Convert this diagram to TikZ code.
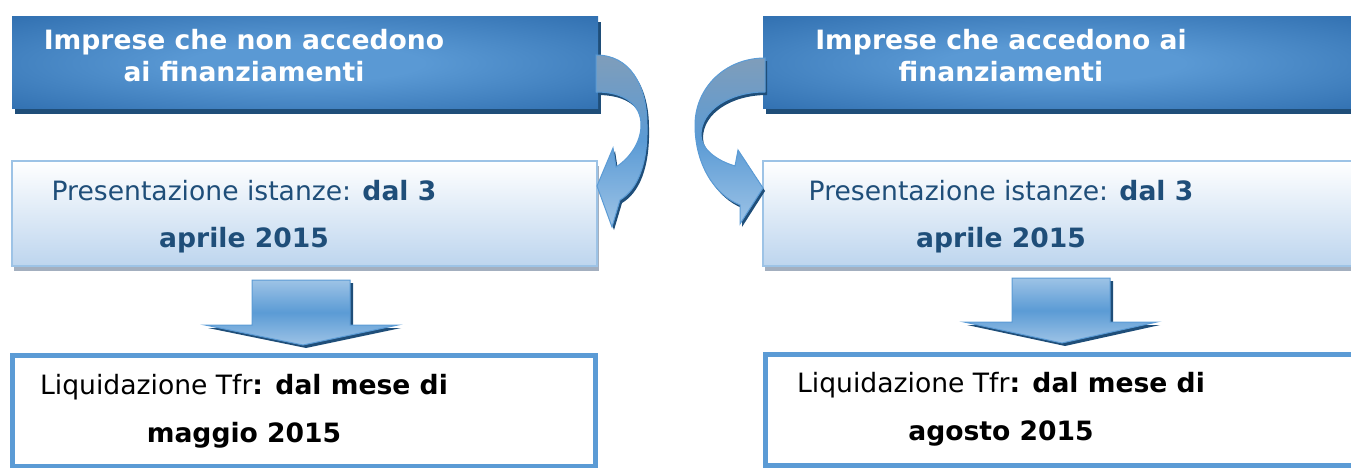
\documentclass[tikz,border=0pt]{standalone}
\usepackage{fontspec}
\setmainfont{DejaVu Sans}
\usetikzlibrary{shadows}

\definecolor{boxdark}{HTML}{2E6DAE}
\definecolor{boxlight}{HTML}{5A99D4}
\definecolor{navyshadow}{HTML}{1F4E79}
\definecolor{palefill}{HTML}{BDD5EE}
\definecolor{paleline}{HTML}{9DC3E6}
\definecolor{datetext}{HTML}{1F4E79}
\definecolor{frameblue}{HTML}{5B9BD5}
\definecolor{arrowgray}{HTML}{7F9DBA}
\definecolor{arrowlight}{HTML}{9DC3E6}
\definecolor{hatchgray}{HTML}{A3AFBF}

\pgfdeclareradialshading{headglow}{\pgfpoint{0bp}{0bp}}{color(0bp)=(boxlight); color(10bp)=(boxlight);
	color(38bp)=(boxdark); color(75bp)=(boxdark)}

\begin{document}
\begin{tikzpicture}[x=1pt, y=-1pt,
	headbox/.style={rectangle, minimum width=586pt, minimum height=92pt, inner sep=0pt,
		shading=headglow,
		drop shadow={shadow xshift=3pt, shadow yshift=-5pt, fill=navyshadow, opacity=1}},
	datebox/.style={rectangle, minimum width=585pt, minimum height=105pt, inner sep=0pt,
		top color=white, bottom color=palefill, draw=paleline, line width=1.5pt,
		drop shadow={shadow xshift=2pt, shadow yshift=-5pt, fill=hatchgray, opacity=1}},
	paybox/.style={rectangle, minimum width=583pt, minimum height=111pt, inner sep=0pt,
		fill=white, draw=frameblue, line width=5pt},
	headtext/.style={anchor=base, align=center, inner sep=0pt, text=white,
		font=\fontsize{26.6}{32}\selectfont\bfseries},
	datetext/.style={anchor=base, align=center, inner sep=0pt, text=datetext,
		font=\fontsize{26.6}{47}\selectfont},
	paytext/.style={anchor=base, align=center, inner sep=0pt, text=black,
		font=\fontsize{26.6}{48}\selectfont},
	blockarrow/.style={top color=arrowlight, bottom color=arrowlight, middle color=frameblue,
		draw=frameblue, line width=1pt,
		drop shadow={shadow xshift=3pt, shadow yshift=-3pt, fill=navyshadow, opacity=1}},
	bentarrow/.style={top color=arrowgray, bottom color=arrowlight, middle color=frameblue,
		draw=frameblue, line width=1pt,
		drop shadow={shadow xshift=2pt, shadow yshift=-3pt, fill=navyshadow, opacity=1}}]
	\clip (0,0) rectangle (1351,468);

	\node at (305,63) [headbox] (nohead) {};
	\node at (1063,63) [headbox, minimum width=600pt] (yeshead) {};
	\node at (304.5,213.5) [datebox] (nodate) {};
	\node at (1063,213.5) [datebox, minimum width=600pt] (yesdate) {};
	\node at (304,410.5) [paybox] (nopay) {};
	\node at (1067,409.5) [paybox, minimum width=604pt] (yespay) {};

	\node at (244,82) [headtext] (nohead-txt) {Imprese che non accedono\\ai finanziamenti};
	\node at (1001,82) [headtext] (yeshead-txt) {Imprese che accedono ai\\finanziamenti};
	\node at (244,247) [datetext] (nodate-txt) {Presentazione istanze: \textbf{dal 3}\\\textbf{aprile 2015}};
	\node at (1001,247) [datetext] (yesdate-txt) {Presentazione istanze: \textbf{dal 3}\\\textbf{aprile 2015}};
	\node at (244,442) [paytext] (nopay-txt) {Liquidazione Tfr\textbf{: dal mese di}\\\textbf{maggio 2015}};
	\node at (1001,440) [paytext] (yespay-txt) {Liquidazione Tfr\textbf{: dal mese di}\\\textbf{agosto 2015}};

	% bent arrows from the head boxes
	\path [bentarrow] (596,55) .. controls (630,55) and (647,85) .. (647,125)
		.. controls (648,165) and (637,190) .. (620,200) -- (612,227) -- (597,186) -- (613,148)
		-- (616,167) .. controls (630,158) and (641,142) .. (641,125)
		.. controls (641,105) and (625,92) .. (596,92) -- cycle;
	\path [bentarrow] (765,58) .. controls (725,58) and (695,88) .. (695,125)
		.. controls (695,165) and (715,195) .. (740,205) -- (740,224) -- (763,188) -- (738,150)
		-- (735,166) .. controls (715,160) and (701,148) .. (701,135)
		.. controls (701,110) and (730,92) .. (765,92) -- cycle;

	% block arrows down
	\path [blockarrow] (252,280) -- (350,280) -- (350,325) -- (398,325) -- (303,345)
		-- (205,325) -- (252,325) -- cycle;
	\path [blockarrow] (1012,278) -- (1110,278) -- (1110,322) -- (1157,322) -- (1062,343)
		-- (964,322) -- (1012,322) -- cycle;

\end{tikzpicture}
\end{document}
